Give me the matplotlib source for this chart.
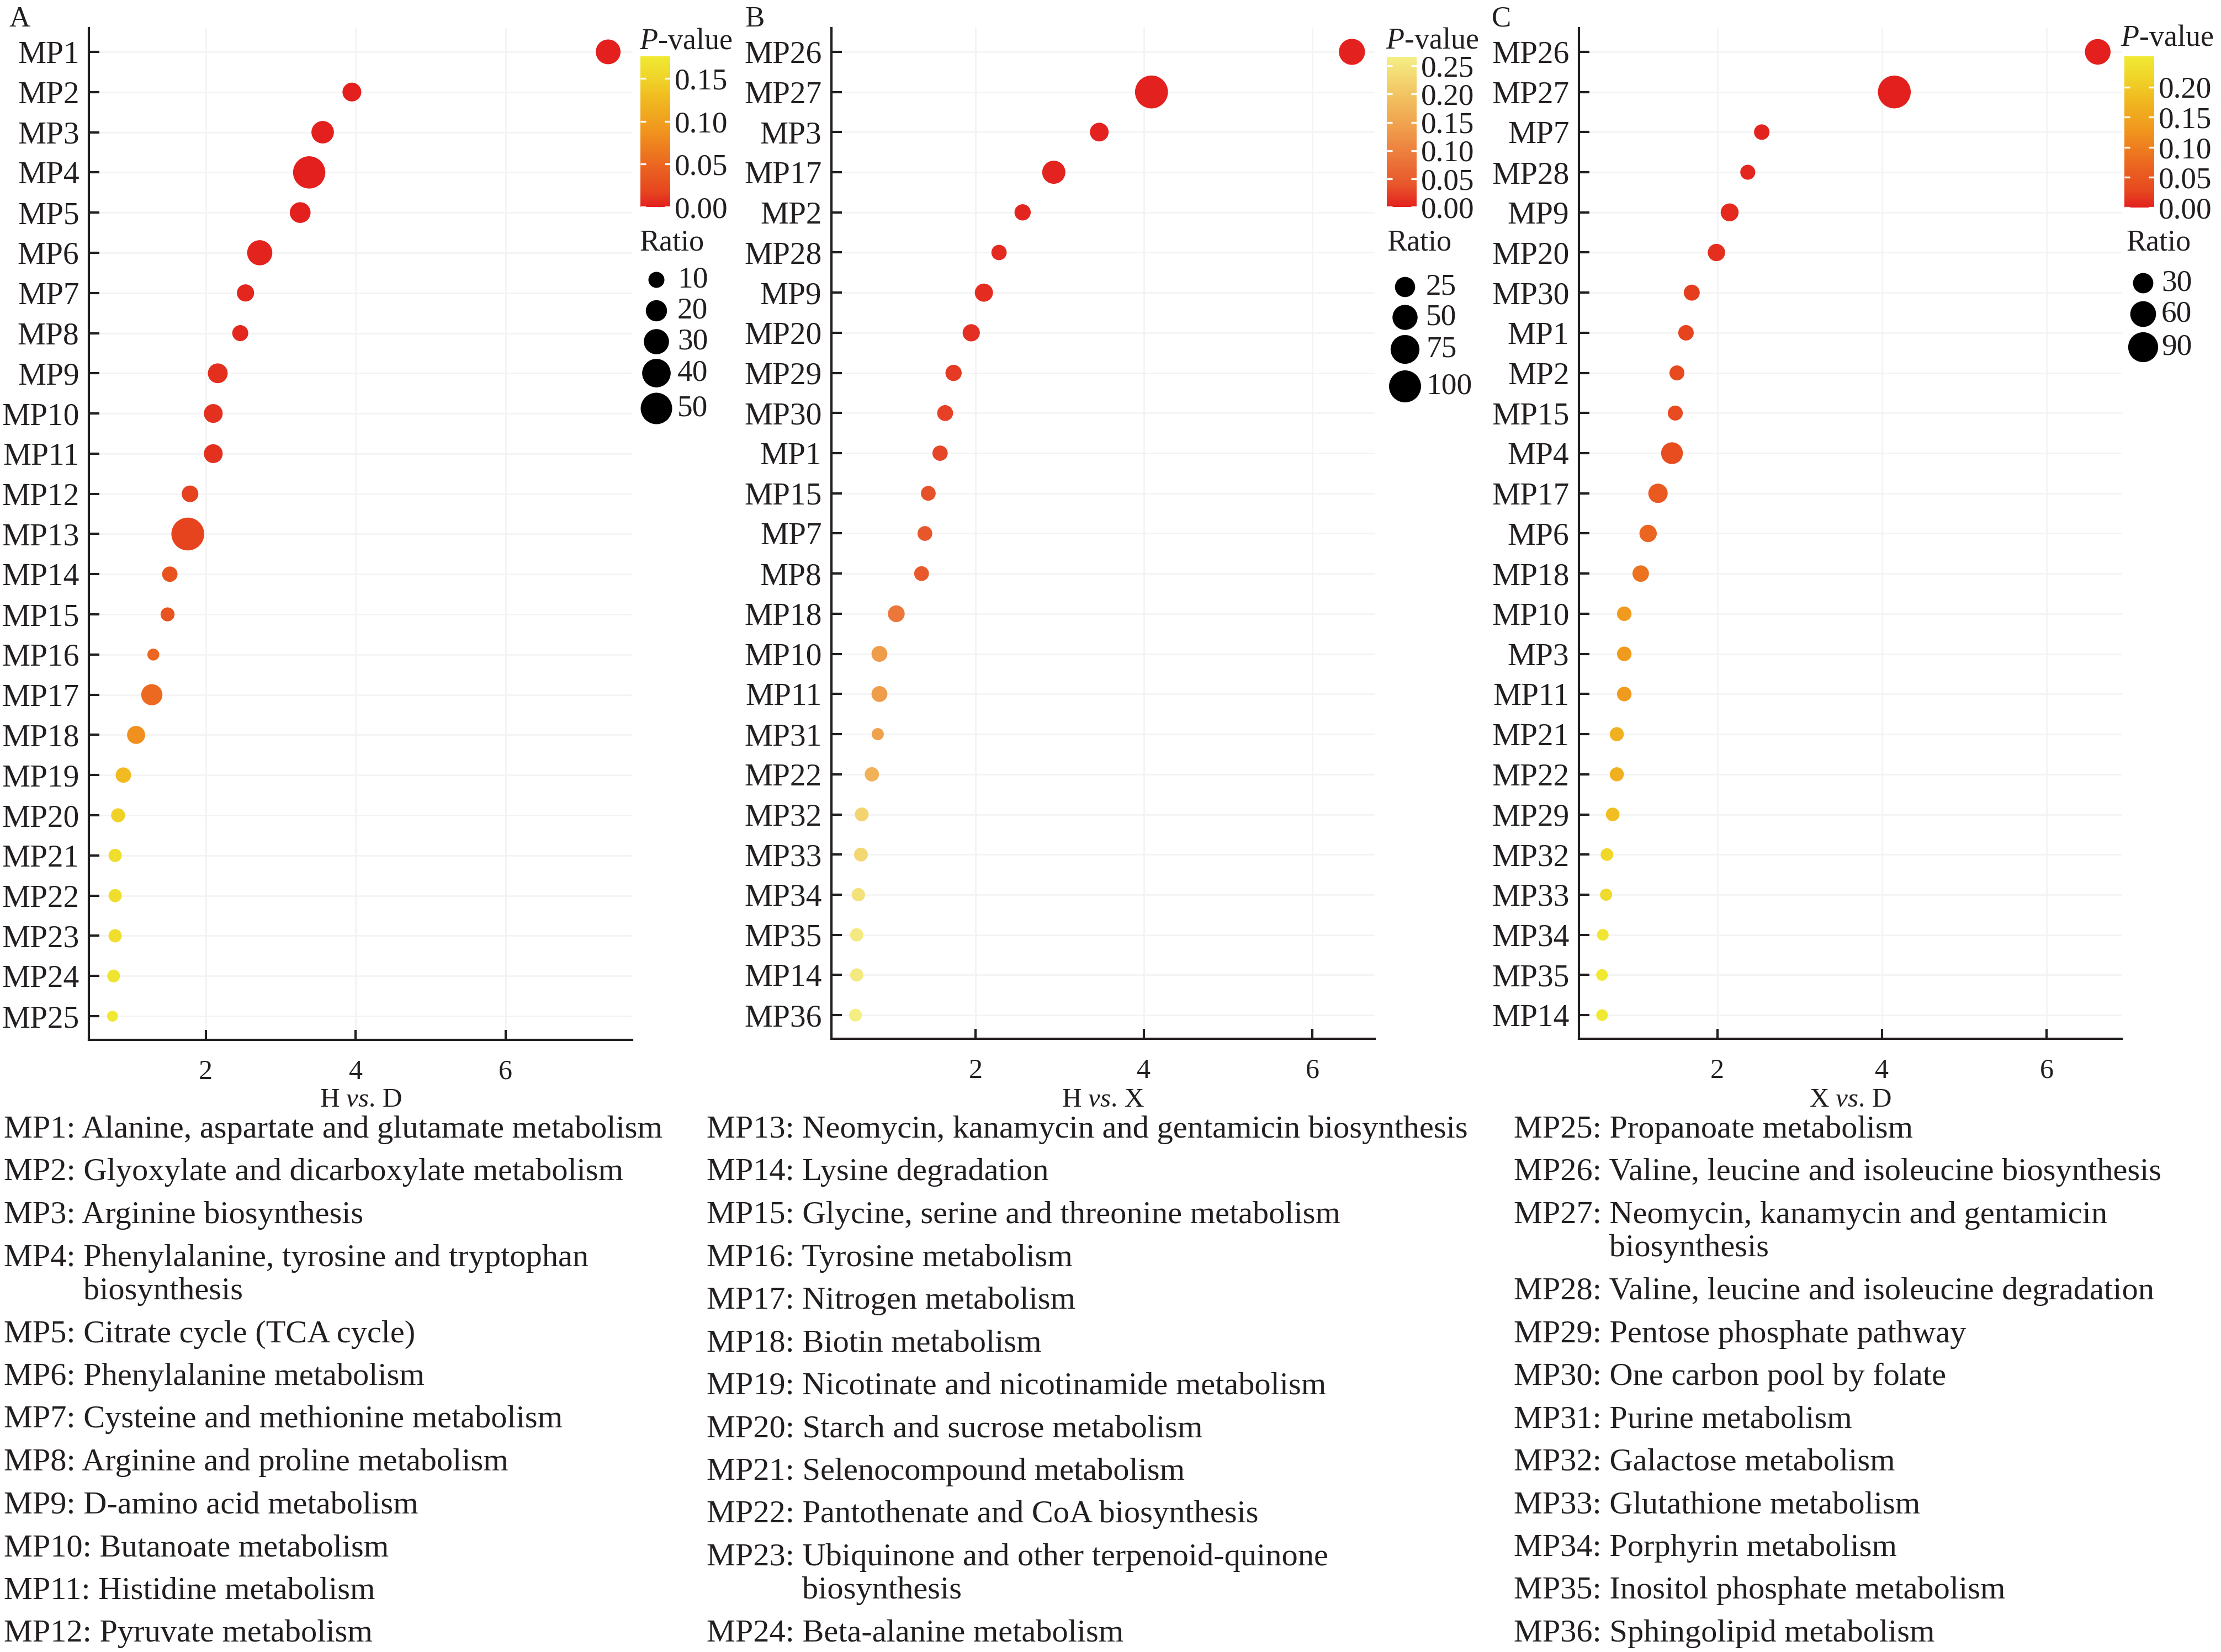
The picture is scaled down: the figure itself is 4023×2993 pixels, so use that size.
import numpy as np
import matplotlib
matplotlib.use('Agg')
import matplotlib.pyplot as plt
from matplotlib.colors import LinearSegmentedColormap

# ---------------- data ----------------
a_paths = ['MP1', 'MP2', 'MP3', 'MP4', 'MP5', 'MP6', 'MP7', 'MP8', 'MP9', 'MP10', 'MP11', 'MP12', 'MP13',
           'MP14', 'MP15', 'MP16', 'MP17', 'MP18', 'MP19', 'MP20', 'MP21', 'MP22', 'MP23', 'MP24', 'MP25']
a_logp = [7.37, 3.95, 3.56, 3.38, 3.26, 2.72, 2.53, 2.46, 2.16, 2.10, 2.10, 1.79, 1.76,
          1.52, 1.49, 1.30, 1.28, 1.07, 0.90, 0.83, 0.79, 0.79, 0.79, 0.77, 0.755]
a_pval = [0.000, 0.0001, 0.0003, 0.0004, 0.0005, 0.002, 0.003, 0.0035, 0.007, 0.008, 0.008, 0.016, 0.017,
          0.030, 0.032, 0.050, 0.052, 0.085, 0.126, 0.148, 0.162, 0.162, 0.162, 0.170, 0.176]
a_ratio = [29, 15, 23, 53, 19, 30, 12, 10, 17, 15, 15, 11, 55,
           9, 7, 4.5, 20, 13.5, 9, 7, 6, 6, 6, 5.5, 3.5]

b_paths = ['MP26', 'MP27', 'MP3', 'MP17', 'MP2', 'MP28', 'MP9', 'MP20', 'MP29', 'MP30', 'MP1', 'MP15', 'MP7',
           'MP8', 'MP18', 'MP10', 'MP11', 'MP31', 'MP22', 'MP32', 'MP33', 'MP34', 'MP35', 'MP14', 'MP36']
b_logp = [6.47, 4.09, 3.47, 2.93, 2.56, 2.28, 2.10, 1.95, 1.74, 1.64, 1.58, 1.44, 1.40,
          1.36, 1.06, 0.86, 0.86, 0.84, 0.77, 0.65, 0.64, 0.61, 0.59, 0.59, 0.575]
b_pval = [0.000, 0.0001, 0.0003, 0.0012, 0.0028, 0.0052, 0.008, 0.011, 0.018, 0.023, 0.026, 0.036, 0.040,
          0.044, 0.087, 0.138, 0.138, 0.145, 0.170, 0.224, 0.229, 0.245, 0.257, 0.257, 0.266]
b_ratio = [56, 108, 19, 39, 11, 8.5, 17, 14, 11, 10, 8.5, 7.3, 7.3,
           7.3, 12.6, 10, 10, 2.5, 6.2, 5.2, 5.2, 4.3, 4.3, 4.3, 3.5]

c_paths = ['MP26', 'MP27', 'MP7', 'MP28', 'MP9', 'MP20', 'MP30', 'MP1', 'MP2', 'MP15', 'MP4', 'MP17', 'MP6',
           'MP18', 'MP10', 'MP3', 'MP11', 'MP21', 'MP22', 'MP29', 'MP32', 'MP33', 'MP34', 'MP35', 'MP14']
c_logp = [6.62, 4.15, 2.54, 2.37, 2.15, 1.99, 1.69, 1.62, 1.51, 1.49, 1.45, 1.28, 1.16,
          1.07, 0.87, 0.87, 0.87, 0.78, 0.78, 0.73, 0.66, 0.65, 0.61, 0.60, 0.60]
c_pval = [0.000, 0.0001, 0.003, 0.004, 0.007, 0.010, 0.020, 0.024, 0.031, 0.032, 0.035, 0.052, 0.069,
          0.085, 0.135, 0.135, 0.135, 0.166, 0.166, 0.186, 0.219, 0.224, 0.245, 0.251, 0.251]
c_ratio = [59, 114, 12, 10.6, 20, 18, 13.5, 12, 10.6, 10.6, 37, 25.7, 18,
           15, 9.4, 9.4, 9.4, 8.2, 8.2, 7.1, 5.2, 4.3, 3.5, 3.5, 3.5]

panel_letters = ['A', 'B', 'C']
panel_xlabels = ['H $\\mathit{vs}$. D', 'H $\\mathit{vs}$. X', 'X $\\mathit{vs}$. D']
x_ticks = [2, 4, 6]
cbar_ticks = [[0.00, 0.05, 0.10, 0.15],
              [0.00, 0.05, 0.10, 0.15, 0.20, 0.25],
              [0.00, 0.05, 0.10, 0.15, 0.20]]
ratio_legend = [[10, 20, 30, 40, 50], [25, 50, 75, 100], [30, 60, 90]]

desc_ids = ['MP%d' % i for i in range(1, 37)]
desc_names = ['Alanine, aspartate and glutamate metabolism',
              'Glyoxylate and dicarboxylate metabolism',
              'Arginine biosynthesis',
              'Phenylalanine, tyrosine and tryptophan\nbiosynthesis',
              'Citrate cycle (TCA cycle)',
              'Phenylalanine metabolism',
              'Cysteine and methionine metabolism',
              'Arginine and proline metabolism',
              'D-amino acid metabolism',
              'Butanoate metabolism',
              'Histidine metabolism',
              'Pyruvate metabolism',
              'Neomycin, kanamycin and gentamicin biosynthesis',
              'Lysine degradation',
              'Glycine, serine and threonine metabolism',
              'Tyrosine metabolism',
              'Nitrogen metabolism',
              'Biotin metabolism',
              'Nicotinate and nicotinamide metabolism',
              'Starch and sucrose metabolism',
              'Selenocompound metabolism',
              'Pantothenate and CoA biosynthesis',
              'Ubiquinone and other terpenoid-quinone\nbiosynthesis',
              'Beta-alanine metabolism',
              'Propanoate metabolism',
              'Valine, leucine and isoleucine biosynthesis',
              'Neomycin, kanamycin and gentamicin\nbiosynthesis',
              'Valine, leucine and isoleucine degradation',
              'Pentose phosphate pathway',
              'One carbon pool by folate',
              'Purine metabolism',
              'Galactose metabolism',
              'Glutathione metabolism',
              'Porphyrin metabolism',
              'Inositol phosphate metabolism',
              'Sphingolipid metabolism']

# ---------------- style ----------------
W, H, DPI = 4023, 2993, 300
PX2PT = 72.0 / DPI
TXT = '#231F20'

plt.rcParams['font.family'] = ['Liberation Serif', 'DejaVu Serif']
plt.rcParams['mathtext.fontset'] = 'custom'
plt.rcParams['mathtext.rm'] = 'Liberation Serif'
plt.rcParams['mathtext.it'] = 'Liberation Serif:italic'
plt.rcParams['text.color'] = TXT

cmap_ry = LinearSegmentedColormap.from_list(
    'ry', [(0.0, '#E3201E'), (0.1, '#E6461F'), (0.28, '#EB6620'), (0.5, '#F0941E'),
           (0.72, '#F0BA20'), (0.87, '#F0D62A'), (1.0, '#F0E932')])
cmap_pale = LinearSegmentedColormap.from_list(
    'rp', [(0.0, '#E3221F'), (0.15, '#E8572B'), (0.35, '#EC7C3C'), (0.55, '#F0A24E'),
           (0.75, '#F2C462'), (1.0, '#F4EE84')])

panels = [
    dict(paths=a_paths, x=a_logp, p=a_pval, r=a_ratio, ax=(161, 51, 1145, 1884), xlim=(0.44, 7.69),
         cb=(1160, 102, 1214, 375), vmax=0.176, cmap=cmap_ry, size=(6.36, 7.16),
         letter_x=17, ptitle=(1158, 89), rtitle=(1158, 453), keys_x=1189, keys_y=[507, 563, 619, 676, 740],
         lab_x=1227),
    dict(paths=b_paths, x=b_logp, p=b_pval, r=b_ratio, ax=(1506, 51, 2490, 1882), xlim=(0.29, 6.74),
         cb=(2512, 103, 2566, 375), vmax=0.266, cmap=cmap_pale, size=(15.2, 4.28),
         letter_x=1349, ptitle=(2510, 88), rtitle=(2512, 453), keys_x=2545, keys_y=[520, 575, 633, 700],
         lab_x=2583),
    dict(paths=c_paths, x=c_logp, p=c_pval, r=c_ratio, ax=(2860, 51, 3843, 1882), xlim=(0.32, 6.91),
         cb=(3848, 102, 3902, 376), vmax=0.251, cmap=cmap_ry, size=(12.92, 4.36),
         letter_x=2702, ptitle=(3841, 83), rtitle=(3851, 453), keys_x=3882, keys_y=[513, 569, 629],
         lab_x=3915),
]


def rect(l, t, r, b):
    return [l / W, 1 - b / H, (r - l) / W, (b - t) / H]


def marker_area(vals, k):
    d_px = k[0] + k[1] * np.sqrt(np.asarray(vals, dtype=float))
    return (d_px * PX2PT) ** 2


fig = plt.figure(figsize=(W / DPI, H / DPI), dpi=DPI)
fig.patch.set_facecolor('white')

ov = fig.add_axes([0, 0, 1, 1], zorder=5)
ov.set_xlim(0, W)
ov.set_ylim(H, 0)
ov.axis('off')
ov.patch.set_visible(False)

for i, P in enumerate(panels):
    ax = fig.add_axes(rect(*P['ax']))
    n = len(P['paths'])
    yy = np.arange(n)
    sc = ax.scatter(P['x'], yy, s=marker_area(P['r'], P['size']), c=P['p'], cmap=P['cmap'],
                    vmin=0, vmax=P['vmax'], edgecolors='none', zorder=3)
    ax.set_ylim(n - 1 + 0.59, -0.59)
    ax.set_xlim(*P['xlim'])
    ax.set_yticks(yy)
    ax.set_yticklabels(P['paths'], fontsize=13.8)
    ax.set_xticks(x_ticks)
    ax.set_xticklabels([str(t) for t in x_ticks], fontsize=12)
    for s in ['top', 'right']:
        ax.spines[s].set_visible(False)
    for s in ['left', 'bottom']:
        ax.spines[s].set_linewidth(1.0)
        ax.spines[s].set_color(TXT)
    ax.tick_params(axis='y', direction='in', length=4.6, width=1.0, color=TXT, pad=4.2, labelcolor=TXT)
    ax.tick_params(axis='x', direction='in', length=4.3, width=1.0, color=TXT, pad=8.5, labelcolor=TXT)
    ax.grid(True, color='#F3F3F3', linewidth=0.6)
    ax.set_axisbelow(True)
    ax.set_xlabel(panel_xlabels[i], fontsize=11.8, color=TXT)
    ax.xaxis.label.set_va('baseline')
    l, t, r, b = P['ax']
    ax.xaxis.set_label_coords(0.5, -(2005 - b) / (b - t))

    # colour bar
    cax = fig.add_axes(rect(*P['cb']))
    cb = fig.colorbar(sc, cax=cax)
    cb.outline.set_visible(False)
    cb.set_ticks(cbar_ticks[i])
    cb.set_ticklabels(['%.2f' % v for v in cbar_ticks[i]])
    cax.tick_params(axis='y', which='both', direction='in', length=2.4, width=0.8, color='white',
                    left=True, right=True, labelleft=False, labelright=True, labelsize=13.2,
                    pad=2, labelcolor=TXT)

    # titles
    ov.text(P['letter_x'], 48, panel_letters[i], fontsize=12.7, ha='left', va='baseline')
    ov.text(P['ptitle'][0], P['ptitle'][1], '$\\mathit{P}$-value', fontsize=13, ha='left', va='baseline')
    ov.text(P['rtitle'][0], P['rtitle'][1], 'Ratio', fontsize=13, ha='left', va='baseline')
    vals = ratio_legend[i]
    ov.scatter([P['keys_x']] * len(vals), P['keys_y'], s=marker_area(vals, P['size']), c='black',
               edgecolors='none')
    for v, ky in zip(vals, P['keys_y']):
        ov.text(P['lab_x'], ky, str(v), fontsize=13.3, ha='left', va='center')

# ---------------- description text ----------------
renderer = fig.canvas.get_renderer()
DESC_FS = 14.0


def text_width(s):
    t = ov.text(0, 0, s, fontsize=DESC_FS)
    w = t.get_window_extent(renderer).width
    t.remove()
    return w


space_w = text_width('a a') - text_width('aa')
col_x = [7, 1280, 2742]
first_base = 2061
step = 77.5
wrap_step = 60.5
for c in range(3):
    y = first_base
    for k in range(12):
        idx = c * 12 + k
        parts = desc_names[idx].split('\n')
        head = desc_ids[idx] + ':'
        ov.text(col_x[c], y, head + ' ' + parts[0], fontsize=DESC_FS, ha='left', va='baseline')
        for extra in parts[1:]:
            y += wrap_step
            ov.text(col_x[c] + text_width(head) + space_w, y, extra, fontsize=DESC_FS, ha='left',
                    va='baseline')
        y += step

fig.savefig('out.png', dpi=DPI, facecolor='white')
